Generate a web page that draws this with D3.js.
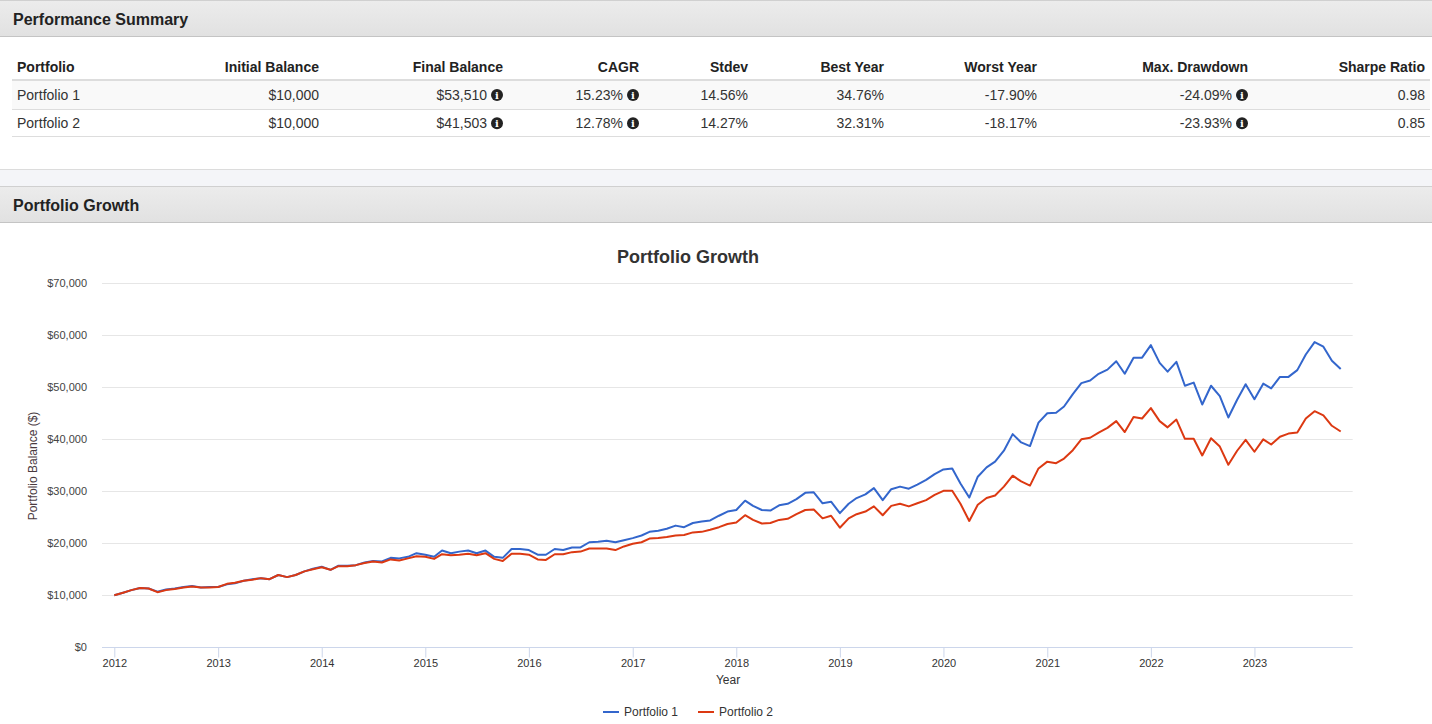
<!DOCTYPE html>
<html>
<head>
<meta charset="utf-8">
<script src="https://cdn.jsdelivr.net/npm/d3@7"></script>
<style>
  body { margin: 0; background: #fff; overflow: hidden; }
  svg { display: block; font-family: "Liberation Sans", Arial, Helvetica, sans-serif; }
</style>
</head>
<body>
<svg id="page" width="1432" height="724"></svg>
<script>
// ---- data ----
const tableColumns = ["Portfolio", "Initial Balance", "Final Balance", "CAGR", "Stdev",
                      "Best Year", "Worst Year", "Max. Drawdown", "Sharpe Ratio"];
const portfolioNames = ["Portfolio 1", "Portfolio 2"];
const initialBalance = ["$10,000", "$10,000"];
const finalBalance = ["$53,510", "$41,503"];
const cagr = ["15.23%", "12.78%"];
const stdev = ["14.56%", "14.27%"];
const bestYear = ["34.76%", "32.31%"];
const worstYear = ["-17.90%", "-18.17%"];
const maxDrawdown = ["-24.09%", "-23.93%"];
const sharpe = ["0.98", "0.85"];
const infoColumns = ["Final Balance", "CAGR", "Max. Drawdown"];

// monthly balances, Jan 2012 .. Nov 2023
const p1Values = [
  10000, 10500, 11000, 11400, 11300, 10700, 11100, 11300, 11600, 11800, 11500, 11600,
  11600, 12100, 12300, 12800, 13100, 13300, 13100, 13900, 13500, 13900, 14600, 15100,
  15500, 14900, 15700, 15700, 15800, 16300, 16600, 16500, 17200, 17100, 17400, 18100,
  17800, 17400, 18600, 18100, 18400, 18600, 18100, 18600, 17400, 17200, 18900, 18900,
  18700, 17800, 17800, 18900, 18700, 19200, 19200, 20200, 20300, 20500, 20200, 20600,
  21000, 21500, 22200, 22400, 22800, 23400, 23100, 23900, 24200, 24400, 25300, 26100,
  26400, 28200, 27200, 26400, 26300, 27300, 27600, 28500, 29700, 29800, 27700, 28000,
  25800, 27600, 28700, 29400, 30600, 28300, 30400, 30900, 30500, 31300, 32200, 33300,
  34200, 34400, 31500, 28800, 32800, 34600, 35700, 37800, 41000, 39400, 38700, 43200,
  45000, 45100, 46300, 48700, 50800, 51300, 52600, 53400, 55000, 52600, 55700, 55700,
  58100, 54700, 53000, 54900, 50300, 50900, 46700, 50300, 48300, 44200, 47600, 50600,
  47700, 50700, 49800, 52000, 52000, 53300, 56300, 58700, 57800, 55100, 53510
];
const p2Values = [
  10000, 10500, 11000, 11400, 11300, 10600, 11000, 11200, 11500, 11700, 11500, 11500,
  11600, 12200, 12400, 12800, 13000, 13300, 13100, 13900, 13500, 13900, 14600, 15000,
  15400, 14900, 15600, 15600, 15800, 16200, 16500, 16300, 16900, 16700, 17100, 17500,
  17400, 17000, 17900, 17700, 17800, 18000, 17700, 18100, 17000, 16600, 18000, 18000,
  17800, 16900, 16800, 17900, 17900, 18300, 18400, 19000, 19000, 19000, 18700, 19400,
  19900, 20200, 20900, 21000, 21200, 21500, 21600, 22100, 22200, 22600, 23100, 23700,
  24000, 25400, 24500, 23800, 23900, 24500, 24700, 25600, 26400, 26500, 24800, 25300,
  23000, 24800, 25600, 26100, 27100, 25400, 27200, 27600, 27100, 27700, 28300, 29300,
  30100, 30100, 27600, 24300, 27400, 28700, 29200, 30900, 33000, 31900, 31100, 34400,
  35700, 35400, 36300, 37900, 40000, 40300, 41300, 42200, 43500, 41400, 44300, 44000,
  46000, 43500, 42300, 43800, 40100, 40100, 36900, 40200, 38600, 35100, 37800, 39900,
  37600, 40000, 39000, 40500, 41100, 41300, 44000, 45400, 44600, 42600, 41503
];
const seriesNames = ["Portfolio 1", "Portfolio 2"];
const seriesColors = ["#3366cc", "#dc3912"];
const yTicks = [0, 10000, 20000, 30000, 40000, 50000, 60000, 70000];
const xTickYears = [2012, 2013, 2014, 2015, 2016, 2017, 2018, 2019, 2020, 2021, 2022, 2023];

const dates = p1Values.map((d, i) => new Date(2012, i, 1));

const svg = d3.select("#page");
const defs = svg.append("defs");
const grad = defs.append("linearGradient").attr("id", "band").attr("x1", 0).attr("y1", 0).attr("x2", 0).attr("y2", 1);
grad.append("stop").attr("offset", "0%").attr("stop-color", "#ececec");
grad.append("stop").attr("offset", "100%").attr("stop-color", "#e1e1e1");

// ---- panels ----
function band(y, h, label) {
    svg.append("rect").attr("x", 0).attr("y", y).attr("width", 1432).attr("height", h)
        .attr("fill", "url(#band)");
    svg.append("line").attr("x1", 0).attr("x2", 1432).attr("y1", y + 0.5).attr("y2", y + 0.5)
        .attr("stroke", "#d0d0d0");
    svg.append("line").attr("x1", 0).attr("x2", 1432).attr("y1", y + h - 0.5).attr("y2", y + h - 0.5)
        .attr("stroke", "#c4c4c4");
    svg.append("text").attr("x", 13).attr("y", y + h / 2 + 6)
        .attr("font-size", "16px").attr("font-weight", "bold").attr("fill", "#222")
        .text(label);
}

svg.append("rect").attr("x", 0).attr("y", 169).attr("width", 1432).attr("height", 17).attr("fill", "#f4f5f8");
svg.append("line").attr("x1", 0).attr("x2", 1432).attr("y1", 169.5).attr("y2", 169.5).attr("stroke", "#dcdcdc");
band(0, 37, "Performance Summary");
band(186, 37, "Portfolio Growth");

// ---- table ----
const colRight = [null, 319, 503, 639, 748, 884, 1037, 1248, 1425];
const tableRows = portfolioNames.map((name, i) => [name, initialBalance[i], finalBalance[i], cagr[i],
    stdev[i], bestYear[i], worstYear[i], maxDrawdown[i], sharpe[i]]);

const tbl = svg.append("g");
tbl.append("rect").attr("x", 12).attr("y", 81).attr("width", 1418).attr("height", 28).attr("fill", "#f9f9f9");
tbl.append("line").attr("x1", 12).attr("x2", 1430).attr("y1", 80).attr("y2", 80)
    .attr("stroke", "#dddddd").attr("stroke-width", 2);
[109.5, 136.5].forEach(y => {
    tbl.append("line").attr("x1", 12).attr("x2", 1430).attr("y1", y).attr("y2", y).attr("stroke", "#dddddd");
});

tbl.selectAll(".th").data(tableColumns).enter().append("text")
    .attr("x", (d, i) => i === 0 ? 17 : colRight[i])
    .attr("y", 71.5)
    .attr("text-anchor", (d, i) => i === 0 ? "start" : "end")
    .attr("font-size", "14px").attr("font-weight", "bold").attr("fill", "#222")
    .text(d => d);

tableRows.forEach((row, r) => {
    const yc = 95 + r * 28.3;
    row.forEach((val, c) => {
        const hasInfo = infoColumns.includes(tableColumns[c]);
        const xr = c === 0 ? 17 : colRight[c] - (hasInfo ? 16 : 0);
        tbl.append("text")
            .attr("x", xr).attr("y", yc + 5)
            .attr("text-anchor", c === 0 ? "start" : "end")
            .attr("font-size", "14px").attr("fill", "#333")
            .text(val);
        if (hasInfo) {
            const cx = colRight[c] - 6;
            tbl.append("circle").attr("cx", cx).attr("cy", yc).attr("r", 6).attr("fill", "#222");
            tbl.append("text").attr("x", cx).attr("y", yc + 4)
                .attr("text-anchor", "middle").attr("font-size", "10px").attr("font-weight", "bold")
                .attr("font-family", "'DejaVu Serif', serif").attr("fill", "#fff").text("i");
        }
    });
});

// ---- chart ----
const plotLeft = 102, plotRight = 1352.7;
const x = d3.scaleTime()
    .domain([dates[0], dates[dates.length - 1]])
    .range([114.3, 1340.7]);
const y = d3.scaleLinear().domain([0, 70000]).range([647.3, 283.3]);

const chart = svg.append("g");

chart.append("text").attr("x", 688).attr("y", 263)
    .attr("text-anchor", "middle").attr("font-size", "18px").attr("font-weight", "bold")
    .attr("fill", "#333").text("Portfolio Growth");

// gridlines
chart.selectAll(".grid").data(yTicks.slice(1)).enter().append("line")
    .attr("x1", plotLeft).attr("x2", plotRight)
    .attr("y1", d => Math.round(y(d)) + 0.5).attr("y2", d => Math.round(y(d)) + 0.5)
    .attr("stroke", "#e6e6e6");

// y axis labels
const yAxis = chart.append("g").attr("transform", `translate(${plotLeft},0)`)
    .call(d3.axisLeft(y).tickValues(yTicks).tickSize(0).tickPadding(15)
        .tickFormat(d => "$" + d3.format(",")(d)));
yAxis.select(".domain").remove();
yAxis.selectAll("text").attr("font-size", "11px").attr("fill", "#444")
    .attr("font-family", "'Liberation Sans', Arial, sans-serif");

chart.append("text")
    .attr("transform", "translate(37,466) rotate(-90)")
    .attr("text-anchor", "middle").attr("font-size", "12px").attr("fill", "#4a3a3f")
    .text("Portfolio Balance ($)");

// x axis
chart.append("line").attr("x1", plotLeft).attr("x2", plotRight)
    .attr("y1", 647.5).attr("y2", 647.5).attr("stroke", "#ccd6eb");
const xAxis = chart.append("g").attr("transform", "translate(0,647.5)")
    .call(d3.axisBottom(x).tickValues(xTickYears.map(yr => new Date(yr, 0, 1)))
        .tickSize(10).tickPadding(2).tickFormat(d3.timeFormat("%Y")));
xAxis.select(".domain").remove();
xAxis.selectAll(".tick line").attr("stroke", "#ccd6eb");
xAxis.selectAll("text").attr("font-size", "11px").attr("fill", "#333")
    .attr("font-family", "'Liberation Sans', Arial, sans-serif");

chart.append("text").attr("x", 728).attr("y", 684)
    .attr("text-anchor", "middle").attr("font-size", "12px").attr("fill", "#333")
    .text("Year");

// lines
const line = d3.line()
    .x((d, i) => x(dates[i]))
    .y(d => y(d));

[p1Values, p2Values].forEach((vals, k) => {
    chart.append("path")
        .datum(vals)
        .attr("fill", "none")
        .attr("stroke", seriesColors[k])
        .attr("stroke-width", 2)
        .attr("stroke-linejoin", "round")
        .attr("d", line);
});

// legend
const legendX = [603, 698];
seriesNames.forEach((name, k) => {
    chart.append("line").attr("x1", legendX[k]).attr("x2", legendX[k] + 16)
        .attr("y1", 712).attr("y2", 712)
        .attr("stroke", seriesColors[k]).attr("stroke-width", 2);
    chart.append("text").attr("x", legendX[k] + 21).attr("y", 716)
        .attr("font-size", "12px").attr("fill", "#333").text(name);
});
</script>
</body>
</html>
